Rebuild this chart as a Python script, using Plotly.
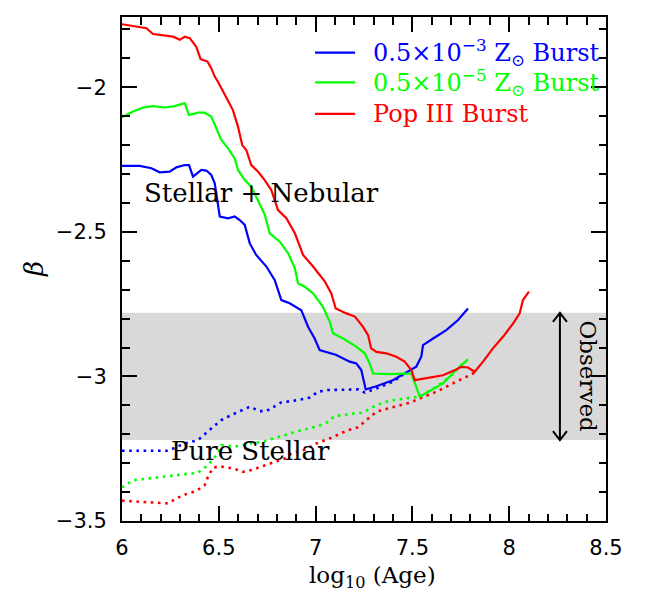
import plotly.graph_objects as go

# ---------------- data ----------------
# Stellar + nebular, 0.5e-3 Zsun burst (blue solid)
blue_neb_age = [6.0, 6.091, 6.152, 6.195, 6.246, 6.281, 6.324, 6.346, 6.367, 6.410, 6.436, 6.461, 6.479, 6.495,
                6.505, 6.548, 6.582, 6.608, 6.634, 6.660, 6.693, 6.746, 6.789, 6.823, 6.866, 6.926, 6.961, 6.995,
                7.021, 7.107, 7.176, 7.210, 7.236, 7.259, 7.314, 7.399, 7.477, 7.520, 7.546, 7.555, 7.607, 7.675,
                7.736, 7.787]
blue_neb_beta = [-2.272, -2.272, -2.28, -2.294, -2.292, -2.277, -2.269, -2.269, -2.309, -2.286, -2.288, -2.303,
                 -2.332, -2.413, -2.447, -2.453, -2.447, -2.459, -2.476, -2.54, -2.58, -2.62, -2.667, -2.736,
                 -2.747, -2.771, -2.828, -2.869, -2.909, -2.926, -2.949, -2.955, -2.978, -3.045, -3.034, -3.013,
                 -2.984, -2.966, -2.932, -2.892, -2.869, -2.84, -2.805, -2.765]

# Stellar + nebular, 0.5e-5 Zsun burst (green solid)
green_neb_age = [6.0, 6.057, 6.109, 6.160, 6.221, 6.272, 6.324, 6.346, 6.393, 6.427, 6.461, 6.487, 6.513, 6.548,
                 6.582, 6.599, 6.634, 6.668, 6.703, 6.737, 6.763, 6.815, 6.858, 6.893, 6.909, 6.944, 6.987, 7.038,
                 7.073, 7.090, 7.142, 7.210, 7.254, 7.279, 7.297, 7.383, 7.460, 7.495, 7.538, 7.597, 7.658,
                 7.726, 7.787]
green_neb_beta = [-2.104, -2.084, -2.07, -2.065, -2.07, -2.065, -2.055, -2.096, -2.088, -2.088, -2.101, -2.142,
                  -2.182, -2.211, -2.246, -2.286, -2.321, -2.344, -2.39, -2.44, -2.505, -2.534, -2.574, -2.626,
                  -2.678, -2.69, -2.713, -2.759, -2.811, -2.851, -2.869, -2.897, -2.92, -2.955, -2.99, -2.992,
                  -2.99, -2.99, -3.07, -3.047, -3.024, -2.978, -2.941]

# Stellar + nebular, Pop III burst (red solid)
red_neb_age = [6.0, 6.126, 6.160, 6.264, 6.299, 6.324, 6.350, 6.383, 6.406, 6.441, 6.461, 6.479, 6.495, 6.530,
               6.548, 6.573, 6.599, 6.621, 6.642, 6.668, 6.703, 6.737, 6.771, 6.806, 6.849, 6.893, 6.926, 6.935,
               6.987, 7.048, 7.081, 7.104, 7.159, 7.203, 7.244, 7.271, 7.287, 7.314, 7.365, 7.417, 7.460,
               7.495, 7.512, 7.589, 7.658, 7.726, 7.753, 7.787, 7.822, 7.865, 7.916, 7.968, 8.020, 8.054,
               8.071, 8.102]
red_neb_beta = [-1.782, -1.796, -1.816, -1.825, -1.836, -1.825, -1.83, -1.859, -1.903, -1.911, -1.934, -1.963,
                -1.98, -2.027, -2.046, -2.079, -2.136, -2.2, -2.217, -2.269, -2.292, -2.321, -2.355, -2.425,
                -2.453, -2.505, -2.563, -2.58, -2.62, -2.672, -2.713, -2.765, -2.782, -2.793, -2.828, -2.857,
                -2.903, -2.915, -2.92, -2.932, -2.949, -2.978, -3.013, -3.005, -2.996, -2.976, -2.967, -2.969,
                -2.984, -2.949, -2.903, -2.863, -2.817, -2.782, -2.736, -2.707]

# Pure stellar (dotted)
blue_st_age = [6.0, 6.238, 6.324, 6.393, 6.461, 6.513, 6.573, 6.625, 6.660, 6.711, 6.746, 6.823, 6.909, 6.970,
               7.013, 7.064, 7.137, 7.219, 7.254, 7.314, 7.399, 7.452]
blue_st_beta = [-3.257, -3.257, -3.232, -3.22, -3.18, -3.151, -3.131, -3.117, -3.105, -3.12, -3.12, -3.09, -3.082,
                -3.073, -3.053, -3.047, -3.047, -3.045, -3.056, -3.042, -3.018, -2.995]

green_st_age = [6.0, 6.057, 6.134, 6.238, 6.393, 6.444, 6.495, 6.513, 6.582, 6.660, 6.728, 6.763, 6.840, 6.926,
                7.013, 7.064, 7.099, 7.219, 7.244, 7.314, 7.383, 7.486, 7.538, 7.624, 7.693, 7.762, 7.779]
green_st_beta = [-3.384, -3.359, -3.353, -3.345, -3.333, -3.307, -3.266, -3.238, -3.243, -3.232, -3.226, -3.218,
                 -3.203, -3.186, -3.172, -3.157, -3.137, -3.128, -3.125, -3.099, -3.084, -3.074, -3.07, -3.036,
                 -3.001, -2.955, -2.946]

red_st_age = [6.0, 6.083, 6.169, 6.238, 6.289, 6.332, 6.383, 6.427, 6.444, 6.470, 6.513, 6.573, 6.625, 6.668,
              6.728, 6.789, 6.840, 6.875, 6.944, 7.004, 7.081, 7.167, 7.219, 7.314, 7.486, 7.546, 7.624, 7.710,
              7.779, 7.822]
red_st_beta = [-3.43, -3.433, -3.437, -3.439, -3.419, -3.407, -3.396, -3.376, -3.347, -3.315, -3.312, -3.318,
               -3.33, -3.324, -3.31, -3.295, -3.284, -3.266, -3.253, -3.232, -3.212, -3.186, -3.176, -3.122,
               -3.091, -3.074, -3.053, -3.024, -3.001, -2.987]

obs_low, obs_high = -3.22, -2.78

series_names = ["0.5×10<sup>−3</sup> Z<sub>⊙</sub> Burst",
                "0.5×10<sup>−5</sup> Z<sub>⊙</sub> Burst",
                "Pop III Burst"]
colors = ["#0000ff", "#00ff00", "#ff0000"]

x_ticks = [6, 6.5, 7, 7.5, 8, 8.5]
y_ticks = [-3.5, -3, -2.5, -2]

X_RANGE = [6, 8.5]
Y_RANGE = [-3.5, -1.757]

SERIF = "DejaVu Serif"
SANS = "DejaVu Sans"

M_L, M_R, M_T, M_B = 114, 49, 7, 80
W, H = 647, 593
PLOT_W, PLOT_H = W - M_L - M_R, H - M_T - M_B

# ---------------- figure ----------------
fig = go.Figure()

dotted = [(blue_st_age, blue_st_beta), (green_st_age, green_st_beta), (red_st_age, red_st_beta)]
solid = [(blue_neb_age, blue_neb_beta), (green_neb_age, green_neb_beta), (red_neb_age, red_neb_beta)]

for (xa, ya), c in zip(dotted, colors):
    fig.add_trace(go.Scatter(x=xa, y=ya, mode="lines", showlegend=False,
                             line=dict(color=c, width=2.6, dash="2.6px,4.6px")))
for (xa, ya), c, n in zip(solid, colors, series_names):
    fig.add_trace(go.Scatter(x=xa, y=ya, mode="lines", name=n, showlegend=False,
                             line=dict(color=c, width=2.2)))

# observed band
fig.add_shape(type="rect", xref="paper", x0=0, x1=1, yref="y", y0=obs_low, y1=obs_high,
              fillcolor="#d9d9d9", line=dict(width=0), layer="below")

# double-headed arrow (open V heads)
ux = (X_RANGE[1] - X_RANGE[0]) / PLOT_W
uy = (Y_RANGE[1] - Y_RANGE[0]) / PLOT_H
ax_x = 8.262
hw, hh = 7 * ux, 9 * uy
fig.add_shape(type="line", x0=ax_x, x1=ax_x, y0=obs_low, y1=obs_high, line=dict(color="black", width=2))
fig.add_shape(type="path",
              path=f"M {ax_x-hw},{obs_high-hh} L {ax_x},{obs_high} L {ax_x+hw},{obs_high-hh}",
              line=dict(color="black", width=2))
fig.add_shape(type="path",
              path=f"M {ax_x-hw},{obs_low+hh} L {ax_x},{obs_low} L {ax_x+hw},{obs_low+hh}",
              line=dict(color="black", width=2))

fig.add_annotation(x=8.407, y=(obs_low + obs_high) / 2, text="Observed", textangle=90,
                   xanchor="center", yanchor="middle",
                   showarrow=False, font=dict(family=SERIF, size=23, color="black"))

fig.add_annotation(x=6.103, y=-2.366, text="Stellar + Nebular", xanchor="left", yanchor="middle",
                   showarrow=False, font=dict(family=SERIF, size=26, color="black"))
fig.add_annotation(x=6.243, y=-3.257, text="Pure Stellar", xanchor="left", yanchor="middle",
                   showarrow=False, font=dict(family=SERIF, size=26, color="black"))

# manual legend
leg_y = [-1.880, -1.983, -2.092]
for n, c, yy in zip(series_names, colors, leg_y):
    fig.add_shape(type="line", x0=6.997, x1=7.204, y0=yy, y1=yy, line=dict(color=c, width=2.2))
    fig.add_annotation(x=7.286, y=yy, text=n, xanchor="left", yanchor="middle", showarrow=False,
                       font=dict(family=SERIF, size=24, color=c))

# axis titles
fig.add_annotation(xref="x", yref="paper", x=7.296, y=-56 / PLOT_H, text="log<sub>10</sub> (Age)",
                   xanchor="center", yanchor="middle",
                   showarrow=False, font=dict(family=SERIF, size=23, color="black"))
fig.add_annotation(xref="paper", yref="paper", x=-88 / PLOT_W, y=0.5, text="<i>β</i>", textangle=-90,
                   xanchor="center", yanchor="middle",
                   showarrow=False, font=dict(family=SERIF, size=26, color="black"))

axis_common = dict(showline=True, linecolor="black", linewidth=2, mirror="ticks", ticks="inside",
                   ticklen=15, tickwidth=2, tickcolor="black", showgrid=False, zeroline=False,
                   tickfont=dict(family=SANS, size=21, color="black"),
                   minor=dict(ticks="inside", ticklen=7.5, tickwidth=2, tickcolor="black", dtick=0.1,
                              showgrid=False))

fig.update_xaxes(range=X_RANGE, tickvals=x_ticks, ticktext=[f"{v:g}" for v in x_ticks],
                 ticklabelstandoff=7, **axis_common)
fig.update_yaxes(range=Y_RANGE, tickvals=y_ticks, ticktext=[f"−{abs(v):g}" for v in y_ticks],
                 ticklabelstandoff=9, **axis_common)

fig.update_layout(width=W, height=H, margin=dict(l=M_L, r=M_R, t=M_T, b=M_B),
                  plot_bgcolor="white", paper_bgcolor="white", showlegend=False)

fig.write_html("out.html")
